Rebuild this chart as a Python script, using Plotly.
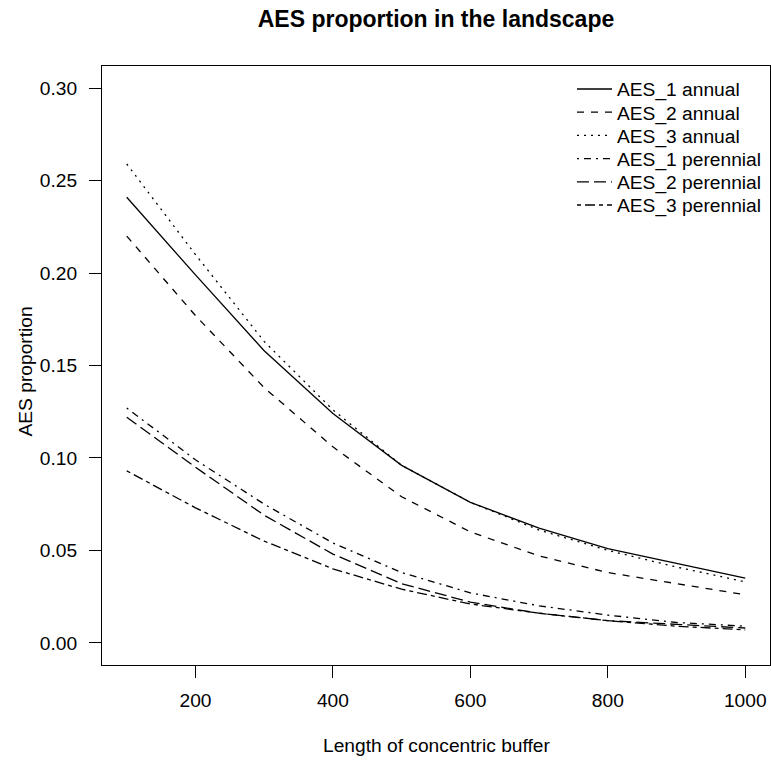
import plotly.graph_objects as go

buffer_length = [100, 200, 300, 400, 500, 600, 700, 800, 900, 1000]
aes1_annual = [0.241, 0.199, 0.158, 0.124, 0.096, 0.076, 0.062, 0.051, 0.043, 0.035]
aes2_annual = [0.220, 0.177, 0.138, 0.106, 0.079, 0.060, 0.047, 0.038, 0.032, 0.026]
aes3_annual = [0.259, 0.210, 0.163, 0.126, 0.096, 0.076, 0.061, 0.050, 0.041, 0.033]
aes1_perennial = [0.127, 0.099, 0.075, 0.054, 0.038, 0.027, 0.020, 0.015, 0.011, 0.009]
aes2_perennial = [0.122, 0.095, 0.069, 0.048, 0.032, 0.022, 0.016, 0.012, 0.010, 0.008]
aes3_perennial = [0.093, 0.073, 0.055, 0.040, 0.029, 0.021, 0.016, 0.012, 0.009, 0.007]

series_names = ["AES_1 annual", "AES_2 annual", "AES_3 annual",
                "AES_1 perennial", "AES_2 perennial", "AES_3 perennial"]
series_values = [aes1_annual, aes2_annual, aes3_annual,
                 aes1_perennial, aes2_perennial, aes3_perennial]
series_dash = ["solid", "7px,7px", "2px,5px", "2px,5px,7px,5px", "12px,5px", "4px,4px,10px,4px"]

W, H = 771, 762
L, R, T, B = 102, 1, 66, 97
FS = 19.2
font = "Liberation Sans, Arial, Helvetica, sans-serif"

fig = go.Figure()
legend_layouts = {}
row0, row_gap = 89, 23.2
for i, (name, vals, dash) in enumerate(zip(series_names, series_values, series_dash)):
    lname = "legend" if i == 0 else f"legend{i + 1}"
    fig.add_trace(go.Scatter(
        x=buffer_length, y=vals, mode="lines", name=name, legend=lname,
        line=dict(color="black", width=1.3, dash=dash),
    ))
    legend_layouts[lname] = dict(
        xref="container", yref="container",
        x=572 / W, xanchor="left",
        y=1 - (row0 + i * row_gap) / H, yanchor="middle",
        bgcolor="rgba(0,0,0,0)", borderwidth=0,
        font=dict(family=font, size=FS, color="black"), itemwidth=35,
    )

fig.update_layout(
    width=W, height=H,
    margin=dict(l=L, r=R, t=T, b=B, autoexpand=False),
    plot_bgcolor="white", paper_bgcolor="white",
    font=dict(family=font, size=FS, color="black"),
    title=dict(text="<b>AES proportion in the landscape</b>",
               xref="paper", x=0.5, xanchor="center",
               yref="container", y=1 - 19 / H, yanchor="middle",
               font=dict(size=23, family=font, color="black")),
    showlegend=True,
    xaxis=dict(range=[64, 1036], tickvals=[200, 400, 600, 800, 1000],
               showline=True, linecolor="black", linewidth=1, mirror=True,
               ticks="outside", ticklen=12, tickcolor="black", tickwidth=1,
               showgrid=False, zeroline=False, ticklabelstandoff=6, automargin=False),
    yaxis=dict(range=[-0.012, 0.312], tickvals=[0, 0.05, 0.1, 0.15, 0.2, 0.25, 0.3],
               tickformat=".2f",
               showline=True, linecolor="black", linewidth=1, mirror=True,
               ticks="outside", ticklen=12, tickcolor="black", tickwidth=1,
               showgrid=False, zeroline=False, ticklabelstandoff=8, automargin=False),
    annotations=[
        dict(text="Length of concentric buffer", xref="paper", yref="paper",
             x=0.5, y=(H - B - 746) / (H - T - B), xanchor="center", yanchor="middle",
             showarrow=False, font=dict(size=FS, family=font, color="black")),
        dict(text="AES proportion", xref="paper", yref="paper", textangle=-90,
             x=(25 - L) / (W - L - R), y=0.49, xanchor="center", yanchor="middle",
             showarrow=False, font=dict(size=FS, family=font, color="black")),
    ],
    **legend_layouts,
)
fig.write_html(
    "out.html",
    config={"displayModeBar": False},
    post_script="document.body.style.margin='0';document.body.style.overflow='hidden';",
)
